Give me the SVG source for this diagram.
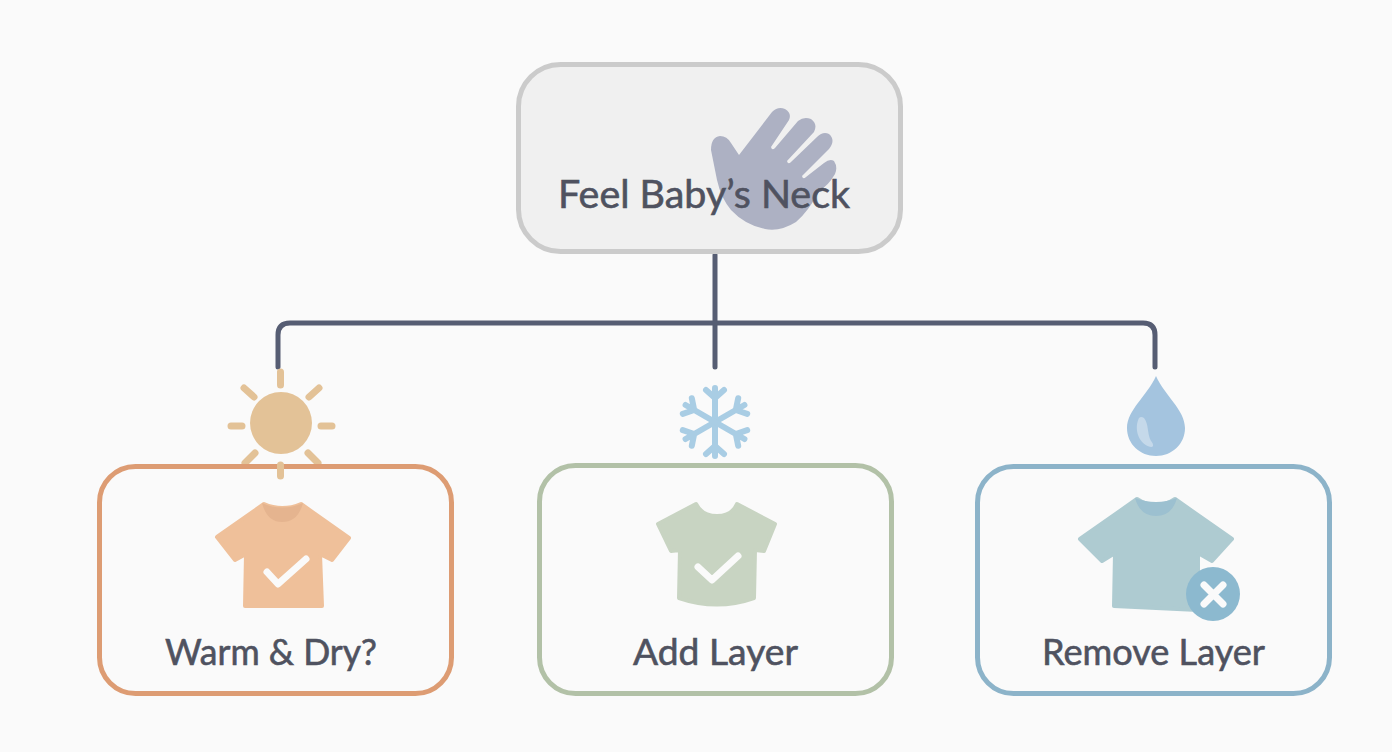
<svg xmlns="http://www.w3.org/2000/svg" xmlns:xlink="http://www.w3.org/1999/xlink" width="1392" height="752" viewBox="0 0 1392 752">
<style>
.lbl{font-family:"Lato","Noto Sans","Liberation Sans",sans-serif;font-size:36px;fill:#4f5260;stroke:#4f5260;stroke-width:.6px}
.box{stroke-width:5px;fill:#fafafa}
.conn{fill:none;stroke:#565d73;stroke-width:5px;stroke-linecap:round;stroke-linejoin:round}
.ray{stroke:#e3c297;stroke-width:7px;stroke-linecap:round;fill:none}
.check{fill:none;stroke:#fafafa;stroke-width:7px;stroke-linecap:round;stroke-linejoin:round}
.flake{fill:none;stroke:#a9cde4;stroke-width:6px;stroke-linecap:round;stroke-linejoin:round}
.shirt{stroke-width:4px;stroke-linejoin:round}
</style>
<defs>
<path id="arm" d="M0 0V-34M-9 -32L0 -24L9 -32"/>
</defs>
<rect width="1392" height="752" fill="#fafafa"/>
<g id="connectors">
<path class="conn" d="M715 255V367"/>
<path class="conn" d="M278 367V335Q278 323 290 323H1143Q1155 323 1155 335V367"/>
</g>
<g id="node-neck">
<rect x="518.5" y="64.5" width="382" height="187" rx="42" fill="#f0f0f0" stroke="#cbcbcb" stroke-width="5"/>
<path d="M711 150Q711 137 720 136Q727 136 731 143L739 155L772 112Q778 106 785 109Q792 113 789 120L771 147Q772 151 775 148L798 121Q804 116 811 119Q818 124 814 132L787 161Q788 165 791 162L817 137Q823 131 829 134Q836 140 829 149L802 176Q803 180 806 177L824 163Q830 158 834 161Q838 167 835 174Q828 186 820 190Q808 212 796 222Q780 232 765 229Q745 225 731 210Q721 198 717 180Z" fill="#adb1c3"/>
<text class="lbl" style="font-size:38px" x="558" y="208" textLength="292" lengthAdjust="spacingAndGlyphs">Feel Baby’s Neck</text>
</g>
<g id="icon-sun">
<circle cx="281" cy="423" r="31" fill="#e3c297"/>
<path class="ray" d="M280.500 372V385M244 388L254 397M319 388L309 397M231 426H242M321 426H332M255 453L245 463M308 453L318 463"/>
</g>
<g id="node-warm">
<rect class="box" x="99.500" y="466.500" width="352" height="227" rx="36" stroke="#dd9c73"/>
<path class="ray" d="M280.500 465V476"/>
<path class="shirt" d="M264 504Q282 512 301 504L349 538L332 560L320 554L322 606H245L246 554L235 560L217 537Z" fill="#efc09a" stroke="#efc09a"/>
<path d="M262 503Q282 512 303 503Q298 522 282 522Q267 522 262 503Z" fill="#e5b48f"/>
<path class="check" d="M267 572L278 584L306 559"/>
<text class="lbl" x="165" y="665" textLength="212" lengthAdjust="spacingAndGlyphs">Warm &amp; Dry?</text>
</g>
<g id="icon-snow" class="flake">
<use xlink:href="#arm" href="#arm" transform="translate(715 422)"/>
<use xlink:href="#arm" href="#arm" transform="translate(715 422) rotate(60)"/>
<use xlink:href="#arm" href="#arm" transform="translate(715 422) rotate(120)"/>
<use xlink:href="#arm" href="#arm" transform="translate(715 422) rotate(180)"/>
<use xlink:href="#arm" href="#arm" transform="translate(715 422) rotate(240)"/>
<use xlink:href="#arm" href="#arm" transform="translate(715 422) rotate(300)"/>
</g>
<g id="node-add">
<rect class="box" x="539.500" y="465.500" width="352" height="228" rx="36" stroke="#b2c1a7"/>
<path class="shirt" d="M696 504Q702 516 717 516Q732 516 737 504L775 524L764 551L755 550L754 598Q717 611 679 598L680 550L671 551L658 524Z" fill="#c8d4c2" stroke="#c8d4c2"/>
<path class="check" d="M698 567L712 580L738 556"/>
<text class="lbl" x="633" y="665" textLength="165" lengthAdjust="spacingAndGlyphs">Add Layer</text>
</g>
<g id="icon-drop">
<path d="M1156 376C1165 396 1185 410 1185 428C1185 444 1172 456 1156 456C1140 456 1127 444 1127 428C1127 410 1147 396 1156 376Z" fill="#a4c4df"/>
<path d="M1139 418C1133 430 1140 446 1152 447C1154 446 1153 443 1151 441C1147 434 1149 424 1144 418Q1141 416 1139 418Z" fill="#c5d9ea"/>
</g>
<g id="node-remove">
<rect class="box" x="977.500" y="466.500" width="352" height="227" rx="36" stroke="#8cb3c9"/>
<path class="shirt" d="M1137 499Q1156 512 1175 499L1232 539L1212 561L1198 553L1198 610L1114 606L1115 553L1102 561L1080 539Z" fill="#aecbd1" stroke="#aecbd1"/>
<path d="M1135 498Q1156 506 1177 498Q1172 516 1156 516Q1140 516 1135 498Z" fill="#9cc0d0"/>
<circle cx="1213" cy="594" r="27" fill="#8cb9cf"/>
<path class="check" d="M1204 585L1223 604M1223 585L1204 604"/>
<text class="lbl" x="1042" y="665" textLength="223" lengthAdjust="spacingAndGlyphs">Remove Layer</text>
</g>
</svg>
